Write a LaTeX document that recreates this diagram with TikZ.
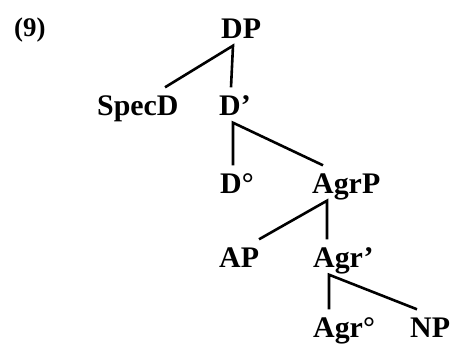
\documentclass[tikz,border=0pt]{standalone}
\usepackage{fontspec}
\setmainfont{Liberation Serif}
\usepackage{tikz}

\begin{document}
\begin{tikzpicture}[
        x=1bp, y=-1bp,
        cat/.style={anchor=base west, inner xsep=0pt, inner ysep=7.5bp, text height=20bp, text depth=0pt, font=\fontsize{30}{32}\selectfont\bfseries},
        branch/.style={line width=2.6bp, line join=miter}
    ]
    \useasboundingbox (0,0) rectangle (451,345);

    % example number
    \node[cat, font=\fontsize{27}{29}\selectfont\bfseries] (num) at (14,36) {(9)};

    % tree labels, one row per level
    \node[cat] (dp)      at (221,38)  {DP};
    \node[cat] (specd)   at (97,115)  {SpecD};
    \node[cat] (dbar)    at (219,115) {D’};
    \node[cat] (dhead)   at (220,193) {D°};
    \node[cat] (agrp)    at (312,193) {AgrP};
    \node[cat] (ap)      at (219,267) {AP};
    \node[cat] (agrbar)  at (313,267) {Agr’};
    \node[cat] (agrhead) at (313,337) {Agr°};
    \node[cat] (np)      at (410,337) {NP};

    % branches
    \draw[branch] ([xshift=68bp]specd.north west) -- ([xshift=12bp]dp.south west) -- ([xshift=12bp]dbar.north west);
    \draw[branch] ([xshift=13bp]dhead.north west) -- ([xshift=14bp]dbar.south west) -- ([xshift=11bp]agrp.north west);
    \draw[branch] ([xshift=40bp]ap.north west) -- ([xshift=15bp]agrp.south west) -- ([xshift=14bp]agrbar.north west);
    \draw[branch] ([xshift=16bp]agrhead.north west) -- ([xshift=16bp]agrbar.south west) -- ([xshift=7bp]np.north west);
\end{tikzpicture}
\end{document}
